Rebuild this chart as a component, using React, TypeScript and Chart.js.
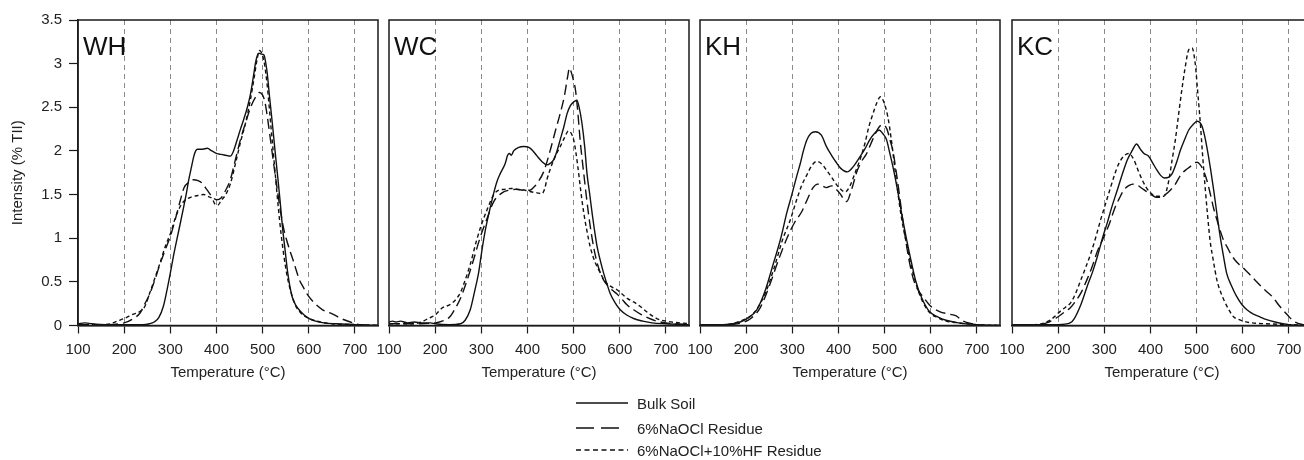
import React, { useEffect, useRef } from "react";
import { Chart, registerables } from "chart.js";

Chart.register(...registerables);

const panelNames = ["WH", "WC", "KH", "KC"];
const seriesNames = ["Bulk Soil", "6%NaOCl Residue", "6%NaOCl+10%HF Residue"];
const xTickValues = [100, 200, 300, 400, 500, 600, 700];
const yTickValues = [0, 0.5, 1, 1.5, 2, 2.5, 3, 3.5];
const yTickLabels = ["0", "0.5", "1", "1.5", "2", "2.5", "3", "3.5"];
const xTitle = "Temperature (°C)";
const yTitle = "Intensity (% TII)";

// [temperature °C, intensity % TII]
const whBulk = [[100,0.02],[115,0.03],[130,0.02],[160,0.01],[200,0.01],[240,0.01],[255,0.02],[265,0.04],[275,0.09],[285,0.22],[293,0.41],[300,0.6],[307,0.8],[314,0.98],[322,1.18],[329,1.36],[335,1.52],[340,1.67],[346,1.82],[351,1.94],[355,2.0],[359,2.02],[370,2.02],[380,2.03],[390,2.0],[401,1.97],[410,1.96],[420,1.95],[430,1.94],[437,2.0],[445,2.13],[452,2.25],[459,2.36],[467,2.5],[474,2.66],[480,2.85],[485,3.02],[489,3.1],[492,3.12],[497,3.11],[503,3.1],[507,3.0],[510,2.89],[515,2.62],[521,2.32],[526,2.05],[532,1.74],[538,1.42],[543,1.13],[549,0.85],[554,0.62],[559,0.45],[564,0.33],[571,0.24],[579,0.18],[590,0.12],[601,0.08],[615,0.05],[633,0.03],[660,0.02],[700,0.01],[750,0]];
const whNaOCl = [[100,0.01],[150,0.01],[200,0.03],[220,0.08],[234,0.14],[245,0.25],[256,0.37],[267,0.53],[278,0.71],[290,0.88],[300,1.02],[311,1.22],[321,1.42],[330,1.58],[340,1.64],[350,1.67],[360,1.66],[369,1.63],[380,1.55],[390,1.48],[400,1.44],[410,1.46],[420,1.55],[430,1.67],[441,1.9],[452,2.13],[463,2.32],[474,2.5],[485,2.62],[493,2.67],[500,2.64],[505,2.56],[510,2.4],[517,2.13],[524,1.85],[532,1.55],[539,1.3],[546,1.1],[552,0.98],[559,0.86],[566,0.75],[573,0.63],[580,0.52],[588,0.44],[595,0.37],[610,0.27],[630,0.18],[652,0.13],[670,0.08],[690,0.04],[710,0.01],[750,0]];
const whHF = [[100,0.01],[150,0.01],[170,0.02],[185,0.05],[200,0.08],[220,0.13],[234,0.16],[245,0.22],[256,0.38],[267,0.55],[278,0.72],[290,0.92],[300,1.05],[314,1.28],[329,1.42],[345,1.47],[360,1.49],[372,1.5],[382,1.48],[391,1.45],[397,1.39],[403,1.38],[410,1.43],[420,1.5],[430,1.62],[441,1.85],[452,2.1],[463,2.32],[474,2.6],[482,2.85],[488,3.05],[493,3.15],[498,3.12],[504,3.0],[510,2.75],[516,2.4],[522,2.05],[528,1.7],[534,1.35],[540,1.05],[546,0.8],[552,0.6],[558,0.45],[565,0.32],[572,0.22],[580,0.16],[590,0.11],[605,0.07],[625,0.04],[650,0.02],[700,0.01],[750,0]];

const wcBulk = [[100,0.04],[108,0.05],[115,0.04],[125,0.05],[140,0.03],[155,0.04],[170,0.03],[190,0.03],[200,0.02],[230,0.01],[255,0.02],[265,0.06],[276,0.18],[285,0.38],[294,0.6],[301,0.85],[309,1.1],[318,1.32],[327,1.52],[334,1.65],[341,1.74],[352,1.86],[357,1.95],[361,1.97],[365,1.95],[370,2.0],[381,2.04],[392,2.05],[403,2.04],[412,2.0],[421,1.94],[431,1.88],[442,1.84],[450,1.86],[457,1.9],[464,2.0],[471,2.13],[479,2.28],[486,2.43],[493,2.52],[500,2.56],[507,2.58],[512,2.5],[518,2.32],[524,2.05],[529,1.74],[535,1.5],[540,1.29],[545,1.1],[551,0.9],[558,0.74],[565,0.6],[572,0.48],[579,0.37],[590,0.26],[601,0.18],[615,0.12],[630,0.08],[650,0.05],[670,0.03],[700,0.02],[750,0.01]];
const wcNaOCl = [[100,0.02],[150,0.02],[200,0.03],[215,0.05],[232,0.1],[244,0.2],[254,0.3],[268,0.5],[283,0.75],[297,1.0],[312,1.22],[327,1.42],[345,1.52],[360,1.55],[375,1.56],[390,1.55],[405,1.55],[413,1.58],[421,1.63],[435,1.76],[449,2.0],[460,2.22],[471,2.43],[480,2.63],[487,2.85],[491,2.95],[495,2.9],[500,2.8],[504,2.7],[509,2.45],[514,2.13],[522,1.74],[532,1.29],[540,1.0],[548,0.78],[556,0.63],[565,0.52],[575,0.45],[585,0.4],[594,0.36],[605,0.3],[615,0.24],[630,0.18],[645,0.13],[660,0.09],[680,0.05],[700,0.03],[750,0.01]];
const wcHF = [[100,0.02],[150,0.02],[170,0.04],[185,0.08],[200,0.12],[215,0.2],[232,0.24],[245,0.3],[255,0.38],[265,0.52],[276,0.7],[290,0.98],[300,1.15],[312,1.32],[327,1.5],[338,1.55],[350,1.56],[365,1.57],[380,1.56],[395,1.55],[410,1.53],[421,1.52],[431,1.51],[437,1.56],[442,1.67],[450,1.8],[457,1.9],[464,1.98],[471,2.05],[480,2.15],[489,2.23],[495,2.2],[500,2.13],[505,1.98],[511,1.74],[516,1.52],[522,1.29],[529,1.08],[536,0.9],[547,0.72],[558,0.6],[565,0.53],[572,0.48],[583,0.44],[594,0.41],[605,0.36],[616,0.31],[630,0.27],[644,0.22],[660,0.15],[680,0.08],[700,0.05],[750,0.02]];

const khBulk = [[100,0.01],[150,0.01],[187,0.04],[205,0.09],[223,0.18],[240,0.38],[259,0.71],[275,1.0],[288,1.29],[299,1.5],[310,1.72],[317,1.85],[324,2.0],[331,2.12],[340,2.2],[350,2.22],[363,2.18],[374,2.05],[385,1.95],[395,1.87],[405,1.8],[419,1.76],[432,1.82],[446,1.93],[457,2.02],[468,2.13],[478,2.2],[488,2.24],[496,2.2],[504,2.13],[511,1.98],[518,1.82],[528,1.55],[538,1.25],[547,1.0],[557,0.75],[568,0.5],[580,0.32],[597,0.16],[615,0.1],[633,0.06],[660,0.03],[700,0.01],[750,0]];
const khNaOCl = [[100,0.01],[150,0.01],[190,0.03],[210,0.08],[230,0.2],[250,0.45],[270,0.75],[290,1.02],[305,1.18],[320,1.3],[333,1.45],[345,1.58],[355,1.62],[365,1.6],[374,1.58],[385,1.6],[395,1.56],[405,1.5],[412,1.44],[418,1.42],[425,1.5],[432,1.62],[439,1.75],[450,1.88],[460,1.96],[470,2.08],[480,2.2],[489,2.28],[497,2.3],[505,2.25],[512,2.12],[518,2.0],[524,1.8],[530,1.58],[537,1.3],[545,1.0],[554,0.72],[563,0.52],[573,0.4],[583,0.33],[600,0.22],[619,0.16],[640,0.13],[655,0.11],[670,0.05],[690,0.02],[720,0],[750,0]];
const khHF = [[100,0.01],[150,0.01],[187,0.05],[216,0.14],[240,0.35],[260,0.65],[280,1.0],[295,1.2],[310,1.45],[320,1.6],[331,1.72],[342,1.83],[353,1.88],[364,1.85],[374,1.78],[385,1.7],[395,1.62],[405,1.56],[414,1.53],[425,1.6],[436,1.75],[446,1.89],[457,2.08],[466,2.28],[475,2.43],[483,2.55],[491,2.62],[499,2.55],[507,2.39],[514,2.15],[521,1.85],[528,1.55],[536,1.25],[547,0.95],[557,0.7],[568,0.48],[580,0.3],[597,0.15],[615,0.09],[633,0.05],[660,0.03],[700,0.01],[750,0]];

const kcBulk = [[100,0.01],[150,0.01],[200,0.01],[226,0.03],[235,0.08],[250,0.25],[263,0.45],[275,0.62],[285,0.79],[296,1.0],[306,1.17],[317,1.37],[328,1.55],[340,1.75],[350,1.9],[360,2.0],[370,2.08],[378,2.02],[386,1.97],[396,1.94],[405,1.86],[414,1.78],[422,1.72],[430,1.69],[440,1.7],[447,1.74],[456,1.86],[465,2.01],[474,2.13],[483,2.24],[492,2.3],[501,2.34],[508,2.32],[512,2.28],[517,2.18],[522,2.05],[530,1.8],[537,1.55],[544,1.28],[551,1.02],[558,0.8],[565,0.6],[576,0.45],[587,0.33],[598,0.24],[609,0.18],[623,0.13],[637,0.1],[650,0.07],[670,0.04],[700,0.01],[750,0]];
const kcNaOCl = [[100,0.01],[150,0.01],[175,0.03],[200,0.1],[215,0.16],[226,0.2],[238,0.28],[250,0.38],[262,0.52],[274,0.68],[285,0.85],[296,0.98],[306,1.1],[314,1.21],[323,1.35],[332,1.45],[342,1.55],[352,1.6],[362,1.62],[371,1.61],[382,1.57],[393,1.53],[402,1.5],[412,1.47],[422,1.47],[432,1.5],[443,1.55],[454,1.62],[465,1.72],[476,1.78],[486,1.82],[494,1.86],[501,1.87],[508,1.84],[516,1.76],[523,1.65],[530,1.5],[537,1.34],[544,1.21],[551,1.09],[558,0.98],[566,0.9],[573,0.83],[583,0.75],[594,0.69],[605,0.64],[616,0.58],[630,0.5],[645,0.42],[664,0.33],[680,0.22],[697,0.12],[710,0.05],[730,0.01],[750,0]];
const kcHF = [[100,0.01],[150,0.01],[170,0.03],[185,0.07],[196,0.12],[206,0.17],[216,0.21],[227,0.26],[238,0.37],[249,0.52],[260,0.67],[271,0.83],[282,1.02],[292,1.21],[303,1.4],[314,1.59],[323,1.74],[332,1.86],[342,1.94],[353,1.97],[364,1.9],[373,1.78],[382,1.67],[391,1.58],[400,1.52],[414,1.48],[429,1.48],[435,1.55],[440,1.67],[447,1.9],[454,2.13],[461,2.42],[468,2.7],[475,2.95],[483,3.16],[490,3.18],[497,3.0],[502,2.7],[508,2.32],[513,1.95],[519,1.55],[524,1.25],[529,0.98],[536,0.75],[544,0.52],[553,0.37],[562,0.26],[571,0.17],[580,0.1],[591,0.07],[601,0.05],[620,0.03],[650,0.02],[700,0.01],[750,0]];

const panelSeries = [
  [whBulk, whNaOCl, whHF],
  [wcBulk, wcNaOCl, wcHF],
  [khBulk, khNaOCl, khHF],
  [kcBulk, kcNaOCl, kcHF],
];

const FONT = "'Liberation Sans', Arial, Helvetica, sans-serif";
const INK = "#1a1a1a";
const plotDashes = [[], [10, 5], [4, 3]];
const legendDashes = ["", "18 7", "5 3.5"];

const PANEL_LEFTS = [78, 389, 700, 1012];
const PANEL_W = 300;
const CANVAS_H = 385;
const TOP_PAD = 20;
const RIGHT_PAD = 8;
const OTHER_PAD_LEFT = 20;

function makeConfig(idx: number) {
  const isFirst = idx === 0;
  const name = panelNames[idx];
  const framePlugin = {
    id: "frameAndLabel" + idx,
    afterDatasetsDraw(chart: any) {
      const { ctx, chartArea: a } = chart;
      ctx.save();
      ctx.strokeStyle = INK;
      ctx.lineWidth = 1.5;
      ctx.setLineDash([]);
      ctx.strokeRect(a.left, a.top, a.right - a.left, a.bottom - a.top);
      ctx.fillStyle = "#111";
      ctx.font = "26px " + FONT;
      ctx.textBaseline = "alphabetic";
      ctx.textAlign = "left";
      ctx.fillText(name, a.left + 5, a.top + 35);
      ctx.restore();
    },
  };
  return {
    type: "line" as const,
    data: {
      datasets: panelSeries[idx].map((pts, k) => ({
        label: seriesNames[k],
        data: pts.map(([x, y]) => ({ x, y })),
        borderColor: "#111",
        borderWidth: 1.4,
        borderDash: plotDashes[k],
        pointRadius: 0,
        fill: false,
        tension: 0.4,
        cubicInterpolationMode: "monotone" as const,
      })),
    },
    options: {
      animation: false as const,
      responsive: false,
      devicePixelRatio: 1,
      events: [],
      layout: {
        padding: { left: isFirst ? 0 : OTHER_PAD_LEFT, right: RIGHT_PAD, top: TOP_PAD, bottom: 0 },
      },
      plugins: { legend: { display: false }, tooltip: { enabled: false } },
      scales: {
        x: {
          type: "linear" as const,
          min: 100,
          max: 750,
          afterBuildTicks: (s: any) => {
            s.ticks = xTickValues.map((v) => ({ value: v }));
          },
          afterFit: (s: any) => {
            s.height = CANVAS_H - 325.5;
          },
          ticks: {
            color: "#222",
            font: { family: FONT, size: 15 },
            padding: 7,
            maxRotation: 0,
            autoSkip: false,
          },
          grid: {
            color: (c: any) => (c.tick && c.tick.value === 100 ? "rgba(0,0,0,0)" : "#8a8a8a"),
            lineWidth: 1,
            tickColor: INK,
            tickLength: 8,
            tickWidth: 1.2,
            tickBorderDash: [],
          },
          border: { display: true, color: INK, width: 1.5, dash: [5, 4] },
          title: {
            display: true,
            text: xTitle,
            color: "#222",
            font: { family: FONT, size: 15 },
            padding: { top: 0, bottom: 3 },
          },
        },
        y: {
          type: "linear" as const,
          min: 0,
          max: 3.5,
          display: isFirst,
          afterBuildTicks: (s: any) => {
            s.ticks = yTickValues.map((v) => ({ value: v }));
          },
          afterFit: (s: any) => {
            s.width = isFirst ? PANEL_LEFTS[0] : 0;
          },
          ticks: {
            color: "#222",
            font: { family: FONT, size: 15 },
            padding: 7,
            callback: (_v: any, i: number) => yTickLabels[i],
          },
          grid: {
            drawOnChartArea: false,
            tickLength: 9,
            tickColor: INK,
            tickWidth: 1.2,
            color: INK,
          },
          border: { display: true, color: INK, width: 1.5 },
          title: {
            display: true,
            text: yTitle,
            color: "#222",
            font: { family: FONT, size: 15 },
            padding: { top: 9, bottom: 0 },
          },
        },
      },
    },
    plugins: [framePlugin],
  };
}

function Panel({ idx }: { idx: number }) {
  const ref = useRef<HTMLCanvasElement>(null);
  const padLeft = idx === 0 ? PANEL_LEFTS[0] : OTHER_PAD_LEFT;
  const left = PANEL_LEFTS[idx] - padLeft;
  const width = padLeft + PANEL_W + RIGHT_PAD;
  useEffect(() => {
    const chart = new Chart(ref.current as HTMLCanvasElement, makeConfig(idx) as any);
    return () => chart.destroy();
  }, [idx]);
  return (
    <canvas
      ref={ref}
      width={width}
      height={CANVAS_H}
      style={{ position: "absolute", left, top: 0, width, height: CANVAS_H }}
    />
  );
}

const legendRowsY = [403, 428, 450];

function Legend() {
  return (
    <>
      {seriesNames.map((s, k) => (
        <div key={s}>
          <svg
            width={54}
            height={10}
            style={{ position: "absolute", left: 575, top: legendRowsY[k] - 5 }}
          >
            <line
              x1={1}
              y1={5}
              x2={k === 1 ? 45 : 53}
              y2={5}
              stroke="#111"
              strokeWidth={1.6}
              strokeDasharray={legendDashes[k] || undefined}
            />
          </svg>
          <div
            style={{
              position: "absolute",
              left: 637,
              top: legendRowsY[k] - 8,
              font: `15px ${FONT}`,
              lineHeight: "17px",
              color: "#222",
              whiteSpace: "nowrap",
            }}
          >
            {s}
          </div>
        </div>
      ))}
    </>
  );
}

export default function App() {
  return (
    <div
      style={{
        position: "absolute",
        left: 0,
        top: 0,
        width: 1304,
        height: 460,
        overflow: "hidden",
        background: "#fff",
      }}
    >
      {panelNames.map((_, i) => (
        <Panel key={i} idx={i} />
      ))}
      <Legend />
    </div>
  );
}
